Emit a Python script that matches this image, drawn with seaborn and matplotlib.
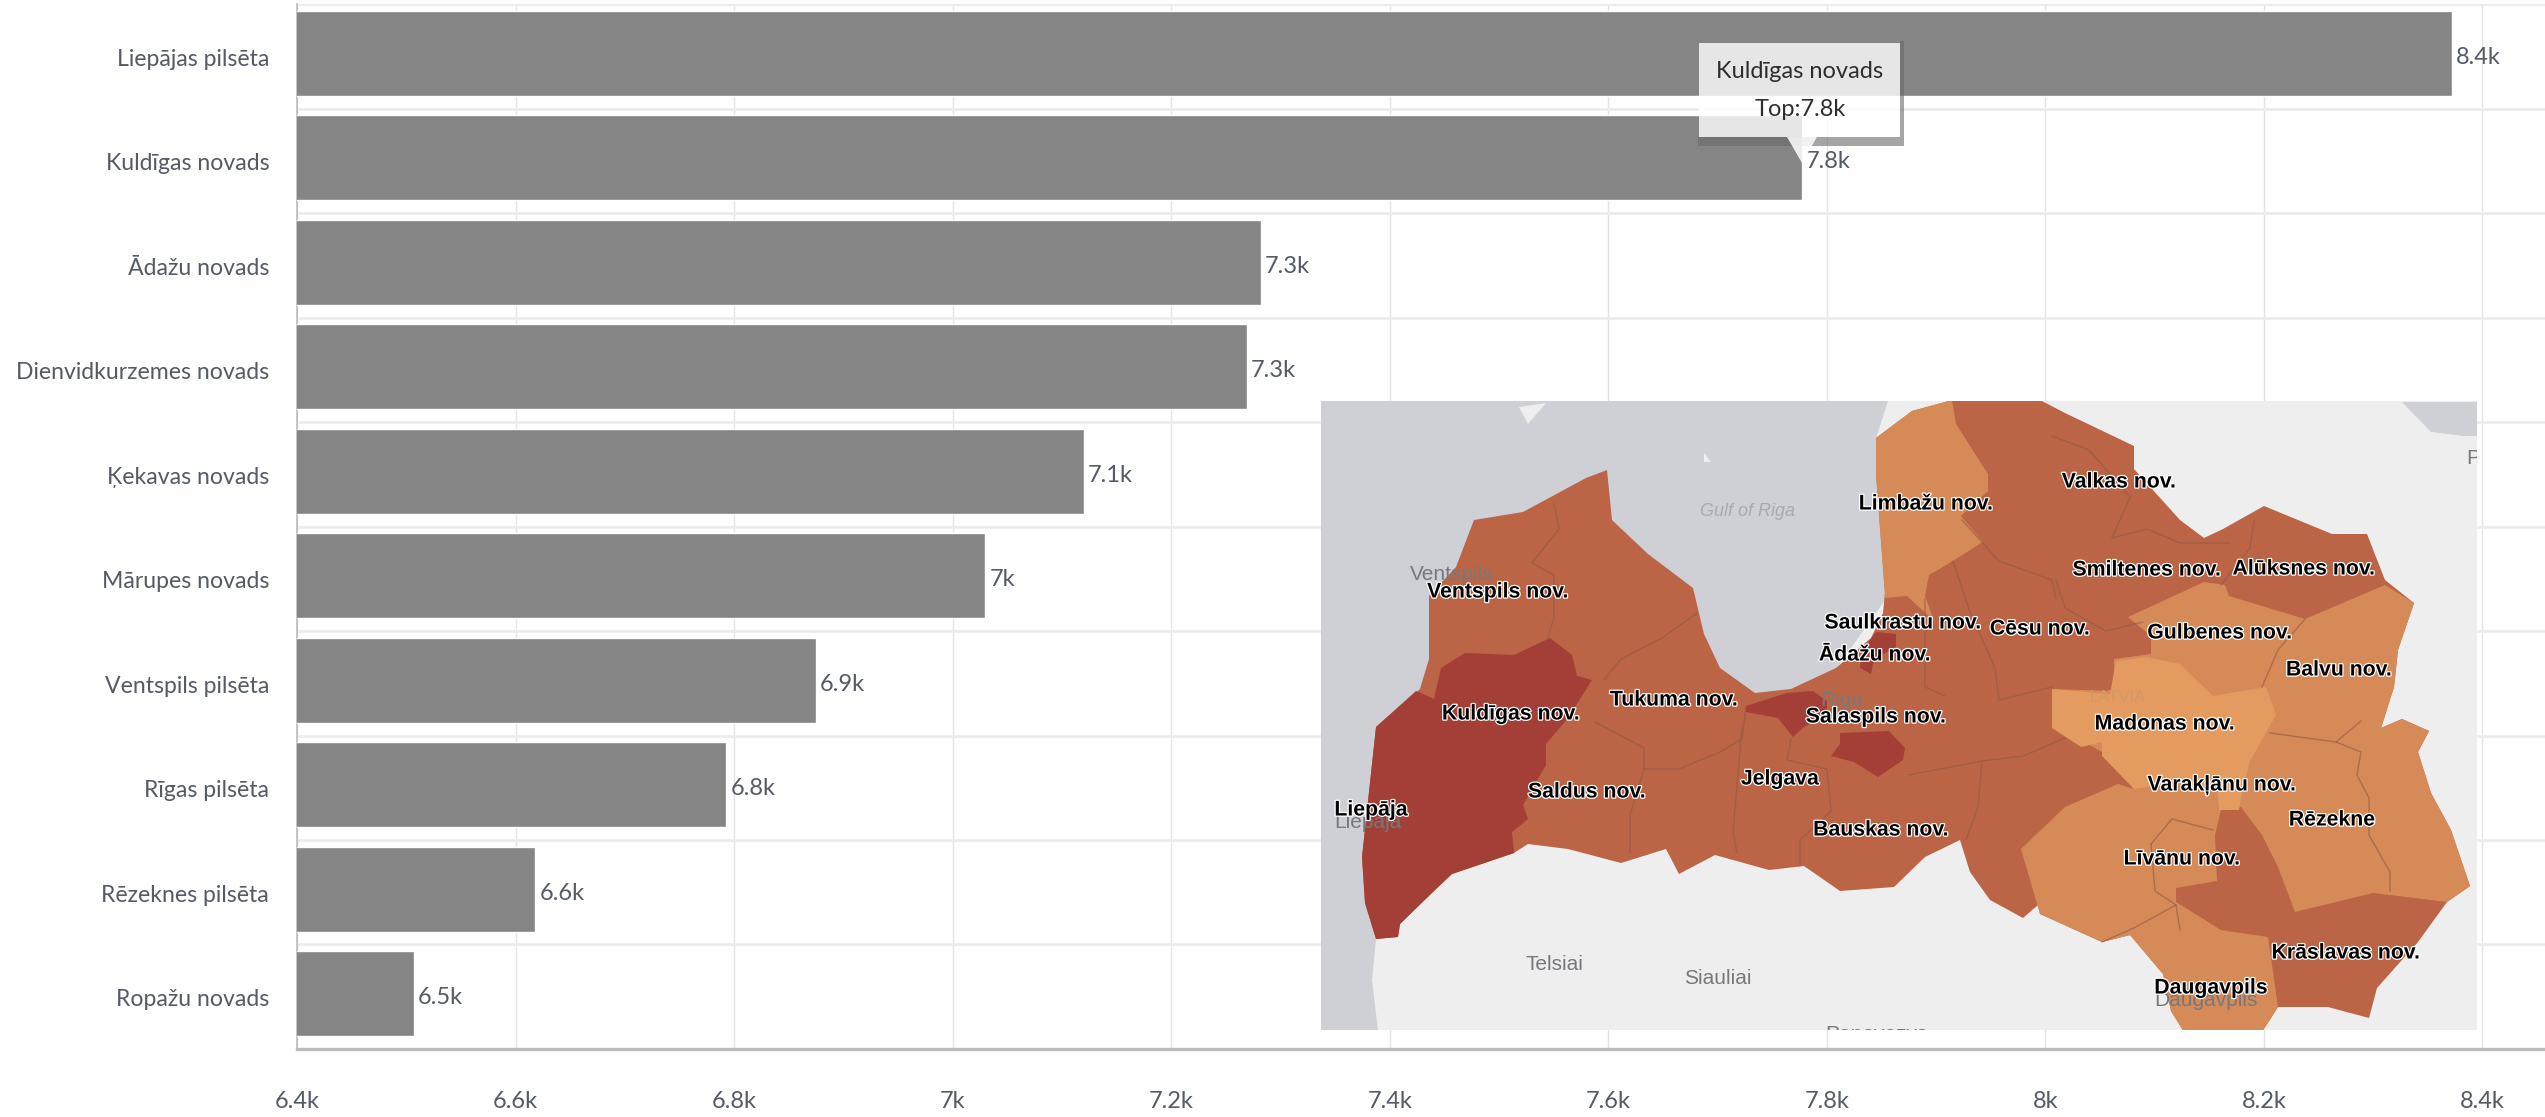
import matplotlib
matplotlib.use("Agg")
import matplotlib.pyplot as plt
import matplotlib.patheffects as pe
from matplotlib.patches import Polygon, Rectangle
from matplotlib.ticker import FixedLocator, NullFormatter
from matplotlib.transforms import ScaledTranslation
import pandas as pd
import seaborn as sns

# chart data
novadi = [
    "Liepājas pilsēta", "Kuldīgas novads", "Ādažu novads", "Dienvidkurzemes novads",
    "Ķekavas novads", "Mārupes novads", "Ventspils pilsēta", "Rīgas pilsēta",
    "Rēzeknes pilsēta", "Ropažu novads",
]
vertibas = [8372, 7777, 7282, 7269, 7120, 7030, 6875, 6793, 6618, 6507]
vertibu_teksti = ["8.4k", "7.8k", "7.3k", "7.3k", "7.1k", "7k", "6.9k", "6.8k", "6.6k", "6.5k"]
x_ticks = [6400, 6600, 6800, 7000, 7200, 7400, 7600, 7800, 8000, 8200, 8400]
x_tick_labels = ["6.4k", "6.6k", "6.8k", "7k", "7.2k", "7.4k", "7.6k", "7.8k", "8k", "8.2k", "8.4k"]

# map outlines in its pixel coordinates
sea = [(1321, 401), (1888, 401), (1876, 438), (1885, 600), (1800, 720), (1400, 800), (1376, 939),
       (1372, 980), (1378, 1030), (1321, 1030)]
islands = [[(1519, 407), (1546, 403), (1528, 424)], [(1704, 453), (1711, 462), (1704, 462)]]
lake = [(2402, 402), (2431, 432), (2464, 436), (2477, 436), (2477, 402)]
latvia = [(1376, 939), (1398, 937), (1400, 924), (1434, 891), (1452, 874), (1514, 853), (1528, 844),
          (1568, 849), (1621, 863), (1666, 849), (1679, 874), (1715, 855), (1769, 870), (1804, 866),
          (1840, 891), (1894, 887), (1925, 857), (1960, 840), (1970, 872), (1990, 900), (2023, 918),
          (2038, 905), (2040, 914), (2102, 942), (2130, 935), (2163, 974), (2171, 1011), (2184, 1032),
          (2262, 1032), (2278, 1007), (2328, 1007), (2369, 1018), (2377, 988), (2418, 942), (2447, 902),
          (2470, 886), (2451, 830), (2431, 793), (2418, 752), (2429, 731), (2402, 719), (2381, 728),
          (2394, 687), (2398, 650), (2414, 603), (2385, 580), (2367, 534), (2332, 534), (2264, 506),
          (2223, 529), (2204, 538), (2180, 520), (2134, 469), (2134, 446), (2065, 413), (2040, 400),
          (1953, 400), (1912, 411), (1876, 438), (1876, 474), (1885, 592), (1883, 613), (1871, 638),
          (1836, 668), (1791, 689), (1755, 693), (1720, 668), (1704, 634), (1693, 588), (1648, 554),
          (1612, 520), (1607, 470), (1586, 478), (1523, 512), (1474, 520), (1456, 567), (1429, 596),
          (1429, 659), (1420, 689), (1376, 727), (1362, 857), (1365, 903)]
liepaja_kuldiga = [(1376, 727), (1416, 691), (1434, 699), (1441, 668), (1465, 653), (1514, 655), (1550, 638),
                   (1572, 655), (1577, 676), (1592, 680), (1568, 718), (1546, 744), (1546, 765), (1523, 805),
                   (1528, 819), (1512, 832), (1514, 853), (1452, 874), (1434, 891), (1400, 924), (1398, 937),
                   (1376, 939), (1365, 903), (1362, 857)]
riga = [(1746, 706), (1787, 693), (1813, 691), (1827, 701), (1827, 714), (1804, 727), (1793, 737), (1778, 718),
        (1746, 712)]
salaspils = [(1840, 733), (1889, 731), (1905, 748), (1903, 760), (1878, 777), (1854, 762), (1831, 756), (1840, 744)]
adazi = [(1876, 632), (1896, 634), (1896, 647), (1874, 659), (1871, 674), (1860, 668), (1862, 651)]
limbazi = [(1952, 400), (1956, 424), (1988, 474), (1988, 491), (1961, 516), (1983, 542), (1943, 567), (1929, 575),
           (1925, 596), (1934, 621), (1907, 596), (1885, 598), (1876, 474), (1876, 438), (1912, 411)]
latgale = [(2128, 617), (2204, 582), (2225, 585), (2229, 596), (2305, 619), (2385, 585), (2414, 603), (2398, 650),
           (2394, 687), (2381, 728), (2402, 719), (2429, 731), (2418, 752), (2431, 793), (2451, 830), (2470, 886),
           (2447, 902), (2373, 893), (2295, 912), (2278, 867), (2262, 835), (2241, 807), (2221, 810), (2215, 835),
           (2217, 881), (2176, 888), (2176, 902), (2221, 930), (2268, 937), (2272, 965), (2278, 1007), (2262, 1032),
           (2184, 1032), (2171, 1011), (2163, 974), (2130, 935), (2102, 942), (2040, 914), (2021, 849), (2065, 807),
           (2118, 784), (2134, 789), (2102, 752), (2052, 724), (2052, 689), (2114, 691), (2114, 659), (2151, 654),
           (2151, 636)]
madona = [(2052, 689), (2110, 694), (2116, 661), (2147, 657), (2180, 664), (2213, 696), (2266, 687), (2276, 715),
          (2250, 761), (2241, 798), (2239, 810), (2219, 810), (2217, 789), (2180, 782), (2134, 789), (2102, 756),
          (2102, 742), (2081, 747), (2052, 728)]
robezas = [
    [(1554, 504), (1559, 529), (1532, 563), (1554, 575), (1554, 617), (1548, 638)],
    [(1697, 613), (1662, 638), (1621, 659), (1604, 680)],
    [(1595, 722), (1644, 748), (1644, 769), (1679, 769), (1720, 752), (1742, 739), (1746, 706)],
    [(1644, 769), (1630, 815), (1630, 853)],
    [(1742, 727), (1733, 832), (1737, 853)],
    [(1791, 739), (1787, 760), (1827, 769), (1831, 811), (1800, 840), (1800, 866)],
    [(2056, 580), (2065, 608), (2106, 631), (2143, 622)],
    [(1953, 561), (1970, 612), (1995, 668), (1999, 700), (2052, 687)],
    [(1925, 599), (1925, 687), (1945, 696)],
    [(1908, 775), (1982, 761), (2023, 756), (2065, 738)],
    [(1982, 761), (1978, 807), (1966, 840)],
    [(2262, 687), (2278, 650), (2305, 619)],
    [(2270, 733), (2336, 742), (2361, 752), (2357, 775), (2369, 798), (2369, 835), (2390, 872), (2390, 891)],
    [(2336, 742), (2361, 721)],
    [(2151, 844), (2172, 819), (2213, 830)],
    [(2151, 844), (2155, 891), (2176, 905), (2180, 930)],
    [(2102, 942), (2134, 928), (2176, 905)],
    [(2112, 538), (2147, 529), (2180, 543), (2229, 543)],
    [(2052, 436), (2089, 450), (2130, 497), (2112, 538)],
    [(1962, 520), (1999, 561), (2052, 580), (2056, 599)],
    [(2254, 520), (2250, 548), (2221, 585)],
]
melnie_nosaukumi = ["Limbažu nov.", "Ventspils nov.", "Saulkrastu nov.", "Ādažu nov.", "Tukuma nov.", "Salaspils nov.",
                    "Kuldīgas nov.", "Saldus nov.", "Jelgava", "Bauskas nov.", "Liepāja", "Valkas nov.",
                    "Smiltenes nov.", "Alūksnes nov.", "Cēsu nov.", "Gulbenes nov.", "Balvu nov.", "Madonas nov.",
                    "Varakļānu nov.", "Rēzekne", "Līvānu nov.", "Krāslavas nov.", "Daugavpils"]
melnie_x = [1926, 1498, 1903, 1875, 1674, 1876, 1511, 1587, 1780, 1881, 1371, 2119,
            2147, 2304, 2040, 2220, 2339, 2165, 2222, 2332, 2182, 2346, 2211]
melnie_y = [504, 592, 623, 655, 700, 717, 714, 792, 779, 830, 810, 482,
            570, 569, 629, 633, 670, 724, 785, 820, 859, 953, 988]
pelekie_nosaukumi = ["Ventspils", "Riga", "Liepāja", "Telsiai", "Siauliai", "Daugavpils", "Panevezys", "P"]
pelekie_x = [1452, 1842, 1368, 1554, 1718, 2206, 1876, 2473]
pelekie_y = [574, 701, 823, 964, 978, 1000, 1034, 459]

sns.set_theme(style="white")
plt.rcParams["font.family"] = ["Lato", "DejaVu Sans"]

teksta_krasa = "#545a66"

W, H = 2545, 1117
fig = plt.figure(figsize=(W / 100, H / 100), dpi=100)
ax = fig.add_axes([297 / W, 1 - 1049 / H, (W - 297) / W, 1045 / H])

df = pd.DataFrame({"novads": novadi, "vertiba": vertibas})
sns.barplot(data=df, x="vertiba", y="novads", color="#858585", saturation=1, width=0.813, ax=ax, zorder=3)
ax.set_xlim(6400, 6400 + (W - 297) / 1092.7 * 1000)
# bars sit a little above the middle of their bands
ax.set_ylim(9.53, -0.47)
ax.set_xlabel("")
ax.set_ylabel("")

ax.set_xticks(x_ticks)
ax.set_xticklabels(x_tick_labels)
ax.yaxis.set_minor_locator(FixedLocator([i - 0.47 for i in range(0, 10)]))
ax.yaxis.set_minor_formatter(NullFormatter())
ax.grid(True, axis="x", color="#e4e4e4", lw=1, zorder=0)
ax.grid(True, axis="y", which="minor", color="#ececec", lw=2, zorder=0)
ax.grid(False, axis="y", which="major")
ax.tick_params(axis="x", length=11, width=1.1, color="#c4c4c4", labelsize=17, labelcolor=teksta_krasa, pad=19)
ax.tick_params(axis="y", which="major", length=10, width=2, color="#d0d0d0", labelsize=16.6, labelcolor=teksta_krasa, pad=10)
ax.tick_params(axis="y", which="minor", length=0)
for s in ["top", "right"]:
    ax.spines[s].set_visible(False)
ax.spines["left"].set_color("#b5b5b5")
ax.spines["left"].set_linewidth(1.1)
ax.spines["bottom"].set_color("#bcbcbc")
ax.spines["bottom"].set_linewidth(2.4)

# category and value labels stand a bit lower than the bar centres
nobide = ScaledTranslation(0, -4 / 100, fig.dpi_scale_trans)
for lab in ax.get_yticklabels():
    lab.set_transform(lab.get_transform() + nobide)
vertibu_etiketes = ax.bar_label(ax.containers[0], labels=vertibu_teksti, padding=3, fontsize=17, color=teksta_krasa)
for et in vertibu_etiketes:
    et.xyann = (3, -3)

# map picture on top of the chart
m = fig.add_axes([1321 / W, 1 - 1030 / H, (2477 - 1321) / W, (1030 - 401) / H], zorder=5)
m.set_xlim(1321, 2477)
m.set_ylim(1030, 401)
m.set_axis_off()
m.add_patch(Rectangle((1321, 401), 1156, 629, color="#eeeeef", lw=0))
m.add_patch(Polygon(sea, color="#cfd0d5", lw=0))
m.add_patch(Polygon(lake, color="#cfd0d5", lw=0))
for ostas in islands:
    m.add_patch(Polygon(ostas, color="#eeeeef", lw=0))
m.add_patch(Polygon(latvia, color="#bb6446", lw=0))
for reg in [liepaja_kuldiga, riga, salaspils, adazi]:
    m.add_patch(Polygon(reg, color="#a33f36", lw=0))
for reg in [limbazi, latgale]:
    m.add_patch(Polygon(reg, color="#d58a58", lw=0))
m.add_patch(Polygon(madona, color="#e49b60", lw=0))
for lin in robezas:
    m.plot([p[0] for p in lin], [p[1] for p in lin], color="#8f5a45", lw=1, alpha=0.6)

m.text(1748, 512, "Gulf of Riga", fontsize=13, style="italic", color="#a9aaae", ha="center", va="center",
       family="Liberation Sans")
m.text(2118, 698, "LATVIA", fontsize=12, color="#cf9a68", ha="center", va="center", family="Liberation Sans")
for t, x, y in zip(pelekie_nosaukumi, pelekie_x, pelekie_y):
    m.text(x, y, t, fontsize=15, color="#77787c", ha="center", va="center", family="Liberation Sans", clip_on=True)
halo = [pe.withStroke(linewidth=1.8, foreground="white")]
for t, x, y in zip(melnie_nosaukumi, melnie_x, melnie_y):
    m.text(x, y, t, fontsize=15.3, fontweight="bold", color="black", ha="center", va="center",
           family="Liberation Sans", path_effects=halo)

# tooltip
o = fig.add_axes([0, 0, 1, 1], zorder=4, facecolor="none")
o.set_xlim(0, W)
o.set_ylim(H, 0)
o.set_axis_off()
o.add_patch(Polygon([(1904, 41), (1904, 146), (1698, 146), (1698, 137), (1900, 137), (1900, 41)], color="#6a6a6a", alpha=0.6, lw=0))
o.add_patch(Rectangle((1699, 43), 201, 94, color="white", alpha=0.8, lw=0))
o.add_patch(Polygon([(1787, 137), (1817, 137), (1802, 163)], color="white", alpha=0.85, lw=0))
o.text(1800, 71, "Kuldīgas novads", fontsize=17, color="#2e2e2e", ha="center", va="center")
o.text(1800, 110, "Top:7.8k", fontsize=17, color="#2e2e2e", ha="center", va="center")

fig.savefig("out.png", dpi=100)
